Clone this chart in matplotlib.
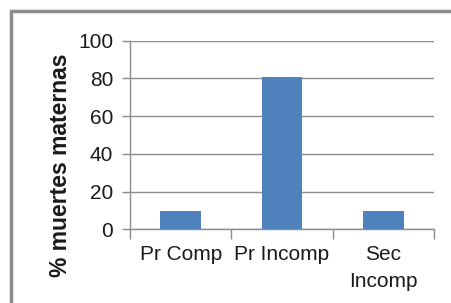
import matplotlib.pyplot as plt
from matplotlib.patches import Rectangle

# Dados
categorias = ["Pr Comp", "Pr Incomp", "Sec\nIncomp"]
valores = [9.5, 81, 9.5]
yticks = [0, 20, 40, 60, 80, 100]

plt.rcParams['font.family'] = ['Liberation Sans', 'DejaVu Sans']

fig = plt.figure(figsize=(4.52, 3.03), dpi=100)
ax = fig.add_axes([130 / 452, 1 - 229.3 / 303, 304 / 452, 188.6 / 303])

x = range(len(categorias))
ax.bar(x, valores, width=0.4, color="#4F81BD", zorder=3)

ax.set_xlim(-0.5, len(categorias) - 0.5)
ax.set_ylim(0, 100)
ax.set_yticks(yticks)
ax.yaxis.grid(True, color="#8c8c8c", linewidth=1, zorder=0)

# eixo x: ticks entre categorias, rótulos centrados
ax.set_xticks([i - 0.5 for i in range(len(categorias) + 1)])
ax.set_xticklabels([])
ax.set_xticks(list(x), minor=True)
ax.set_xticklabels(categorias, minor=True, fontsize=15, color="#1a1a1a",
                   linespacing=1.55)
ax.tick_params(axis='x', which='major', length=7, width=1, color="#8c8c8c")
ax.tick_params(axis='x', which='minor', length=0, pad=11)
ax.tick_params(axis='y', length=6, width=1, color="#8c8c8c", labelsize=15,
               labelcolor="#1a1a1a", pad=6)

for s in ["top", "right"]:
    ax.spines[s].set_visible(False)
for s in ["left", "bottom"]:
    ax.spines[s].set_color("#8c8c8c")
    ax.spines[s].set_linewidth(1)

ax.set_ylabel("% muertes maternas", fontsize=16.5, fontweight="bold", color="#1a1a1a")
ax.yaxis.set_label_coords(-0.19, 0.338)

# moldura exterior
fig.patches.append(Rectangle((10.5 / 452, -0.1), 1.2, 1 - 10.5 / 303 + 0.1,
                             transform=fig.transFigure, fill=False,
                             edgecolor="#8c8c8c", linewidth=2.5))

plt.savefig("out.png", dpi=100)
